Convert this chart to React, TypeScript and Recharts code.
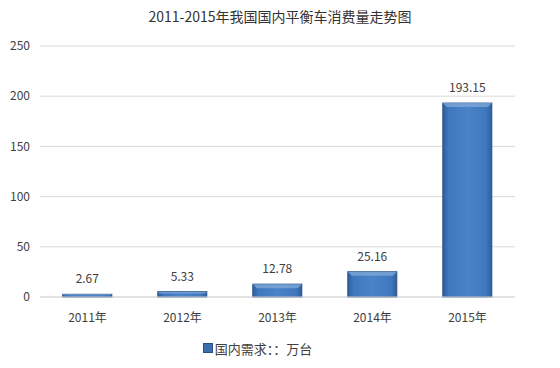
import { Bar, BarChart, CartesianGrid, LabelList, Legend, XAxis, YAxis } from "recharts"

const years = ["2011年", "2012年", "2013年", "2014年", "2015年"]
const demand = [2.67, 5.33, 12.78, 25.16, 193.15]
const yTicks = [0, 50, 100, 150, 200, 250]
const seriesName = "国内需求：：万台"

const data = years.map((year, i) => ({ year, value: demand[i] }))

const font = '"Noto Sans CJK SC", "Noto Sans", sans-serif'

const BevelBar = (props: any) => {
  const { x, y, width, height } = props
  if (!height || height <= 0) return null
  const b = Math.min(4, height / 3)
  return (
    <g>
      <rect x={x} y={y} width={width} height={height} fill="url(#barFill)" stroke="#2a5286" strokeWidth={1} />
      <polygon
        points={`${x},${y} ${x + width},${y} ${x + width - b},${y + b} ${x + b},${y + b}`}
        fill="#7ea6d8"
        opacity={0.8}
      />
    </g>
  )
}

const CustomLegend = () => (
  <div
    style={{
      display: "flex",
      justifyContent: "center",
      alignItems: "center",
      height: 30,
      fontFamily: font,
      fontSize: 13,
      color: "#404040",
    }}
  >
    <span style={{ width: 8, height: 8, background: "#3a6fb0", border: "1px solid #2a5286", marginRight: 2 }} />
    {seriesName}
  </div>
)

export default function App() {
  return (
    <div style={{ position: "absolute", left: 0, top: 0, width: 560, height: 368, background: "#fff" }}>
      <div
        style={{
          position: "absolute",
          top: 6,
          width: 560,
          textAlign: "center",
          fontFamily: font,
          fontSize: 14,
          color: "#333",
        }}
      >
        2011-2015年我国国内平衡车消费量走势图
      </div>
      <BarChart
        width={560}
        height={368}
        data={data}
        margin={{ top: 46, right: 45, left: 0, bottom: 5 }}
        barCategoryGap="24%"
      >
        <defs>
          <linearGradient id="barFill" x1="0" y1="0" x2="1" y2="0">
            <stop offset="0%" stopColor="#2f5f9e" />
            <stop offset="12%" stopColor="#3f78bd" />
            <stop offset="50%" stopColor="#4a83c6" />
            <stop offset="88%" stopColor="#3f78bd" />
            <stop offset="100%" stopColor="#2f5f9e" />
          </linearGradient>
        </defs>
        <CartesianGrid vertical={false} stroke="#d9d9d9" />
        <XAxis
          dataKey="year"
          axisLine={{ stroke: "#d9d9d9" }}
          tickLine={false}
          height={36}
          tickMargin={10}
          tick={{ fill: "#404040", fontSize: 12, fontFamily: font }}
        />
        <YAxis
          width={40}
          domain={[0, 250]}
          ticks={yTicks}
          axisLine={false}
          tickLine={false}
          tickMargin={4}
          tick={{ fill: "#404040", fontSize: 12, fontFamily: font }}
        />
        <Legend verticalAlign="bottom" content={<CustomLegend />} />
        <Bar dataKey="value" name={seriesName} shape={<BevelBar />} isAnimationActive={false}>
          <LabelList
            dataKey="value"
            position="top"
            offset={11}
            style={{ fill: "#404040", fontSize: 12, fontFamily: font }}
          />
        </Bar>
      </BarChart>
    </div>
  )
}
